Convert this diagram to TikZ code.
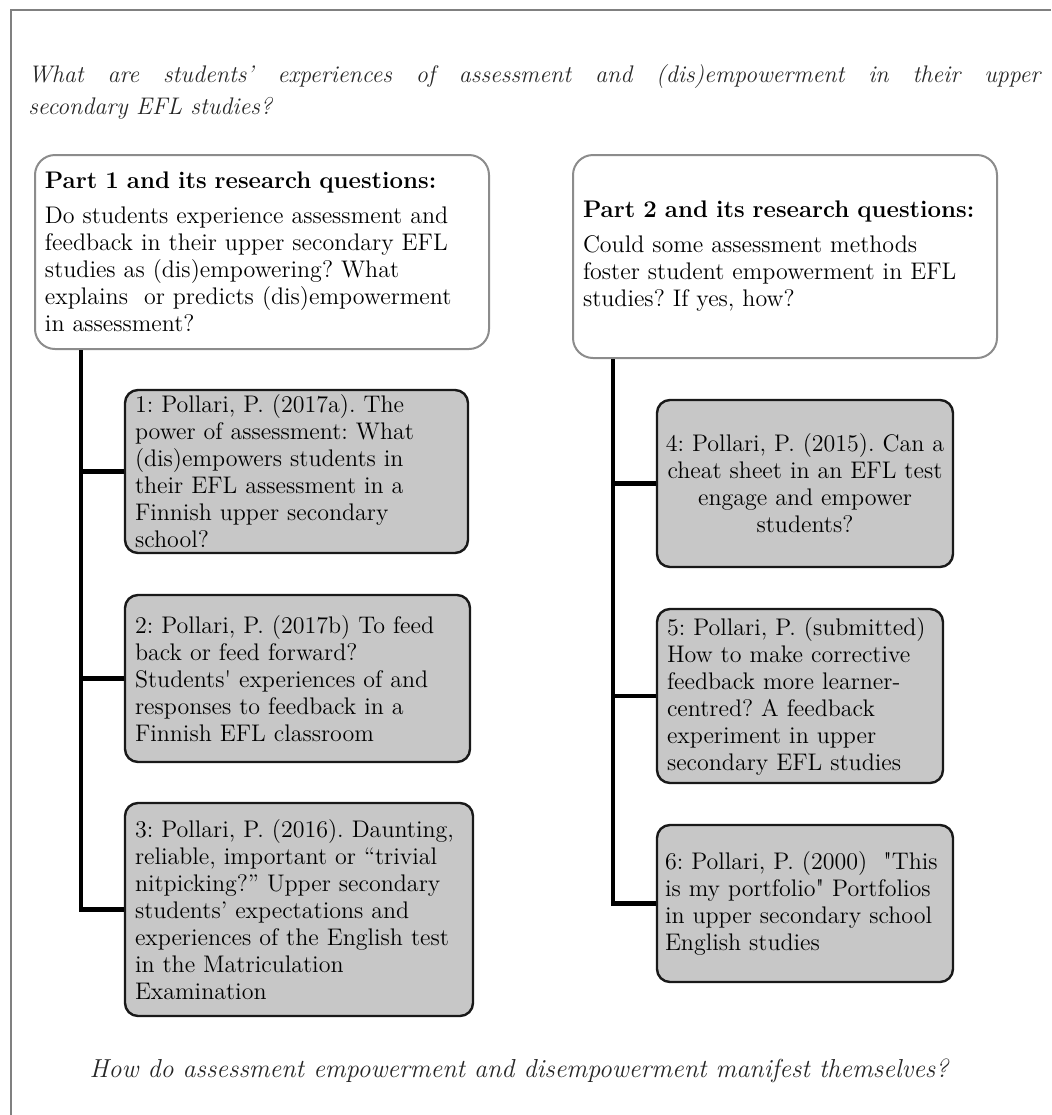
\documentclass[tikz,border=0pt]{standalone}
\usepackage{fontspec}
\begin{document}
\frenchspacing
\begin{tikzpicture}[x=0.5pt,y=-0.5pt,
  partbox/.style={draw=black!45, line width=1pt, rounded corners=10pt, fill=white,
    inner xsep=5pt, inner ysep=0pt, align=left,
    font=\fontsize{12}{13.5}\selectfont},
  paperbox/.style={draw=black!90, line width=1.2pt, rounded corners=6.5pt, fill=black!22,
    inner xsep=5pt, inner ysep=0pt, align=left,
    font=\fontsize{12}{13.5}\selectfont},
  conn/.style={line width=2.2pt, black},
  frame/.style={draw=black!50, line width=1pt},
  qtext/.style={inner sep=0pt, font=\itshape\fontsize{12}{16}\selectfont, text=black!85}
]
\useasboundingbox (0,0) rectangle (1051,1115);
\draw[frame] (11,1115) -- (11,10) -- (1051,10);

\node[qtext, anchor=north west, text width=506pt, align=justify] (q1) at (28,64)
 {What are students’ experiences of assessment and (dis)empowerment in their upper\linebreak secondary EFL studies?};

\node[partbox, text width=217pt, minimum height=97pt] (p1) at (262,252)
 {\textbf{Part 1 and its research questions:}\\[4pt]
  Do students experience assessment and\\
  feedback in their upper secondary EFL\\
  studies as (dis)empowering? What\\
  explains~ or predicts (dis)empowerment\\
  in assessment?};

\node[partbox, text width=202pt, minimum height=101.5pt] (p2) at (785,256.5)
 {\textbf{Part 2 and its research questions:}\\[4pt]
  Could some assessment methods\\
  foster student empowerment in EFL\\
  studies? If yes, how?};

\node[paperbox, text width=161.5pt, minimum height=81.5pt] (b1) at (296.5,471.5)
 {1: Pollari, P. (2017a). The\\
  power of assessment: What\\
  (dis)empowers students in\\
  their EFL assessment in a\\
  Finnish upper secondary\\
  school?};

\node[paperbox, text width=162.5pt, minimum height=83.5pt] (b2) at (297.5,678.5)
 {2: Pollari, P. (2017b) To feed\\
  back or feed forward?\\
  Students\textquotesingle\ experiences of and\\
  responses to feedback in a\\
  Finnish EFL classroom};

\node[paperbox, text width=164pt, minimum height=106.5pt] (b3) at (299,909.5)
 {3: Pollari, P. (2016). Daunting,\\
  reliable, important or “trivial\\
  nitpicking?” Upper secondary\\
  students’ expectations and\\
  experiences of the English test\\
  in the Matriculation\\
  Examination};

\node[paperbox, inner xsep=2pt, text width=144pt, minimum height=83.5pt, align=center] (b4) at (805,483.5)
 {4: Pollari, P. (2015). Can~a\\
  cheat sheet in an EFL test\\
  engage and empower\\
  students?};

\node[paperbox, text width=133pt, minimum height=87pt] (b5) at (800,696)
 {5: Pollari, P. (submitted)\\
  How to make corrective\\
  feedback more learner-\\
  centred? A feedback\\
  experiment in upper\\
  secondary EFL studies};

\node[paperbox, inner xsep=4pt, text width=140pt, minimum height=78.5pt] (b6) at (805,903.5)
 {6: Pollari, P. (2000)~ \textquotedbl This\\
  is my portfolio\textquotedbl\ Portfolios\\
  in upper secondary school\\
  English studies};

\node[qtext, font=\itshape\fontsize{13}{16}\selectfont, anchor=base] (q2) at (519,1077)
 {How do assessment empowerment and disempowerment manifest themselves?};

\coordinate (t1) at ([xshift=23.5pt]p1.south west);
\coordinate (t2) at ([xshift=20.5pt]p2.south west);

\draw[conn] (t1) |- (b3.west);
\draw[conn] (t1 |- b1.west) -- (b1.west);
\draw[conn] (t1 |- b2.west) -- (b2.west);

\draw[conn] (t2) |- (b6.west);
\draw[conn] (t2 |- b4.west) -- (b4.west);
\draw[conn] (t2 |- b5.west) -- (b5.west);
\end{tikzpicture}
\end{document}
